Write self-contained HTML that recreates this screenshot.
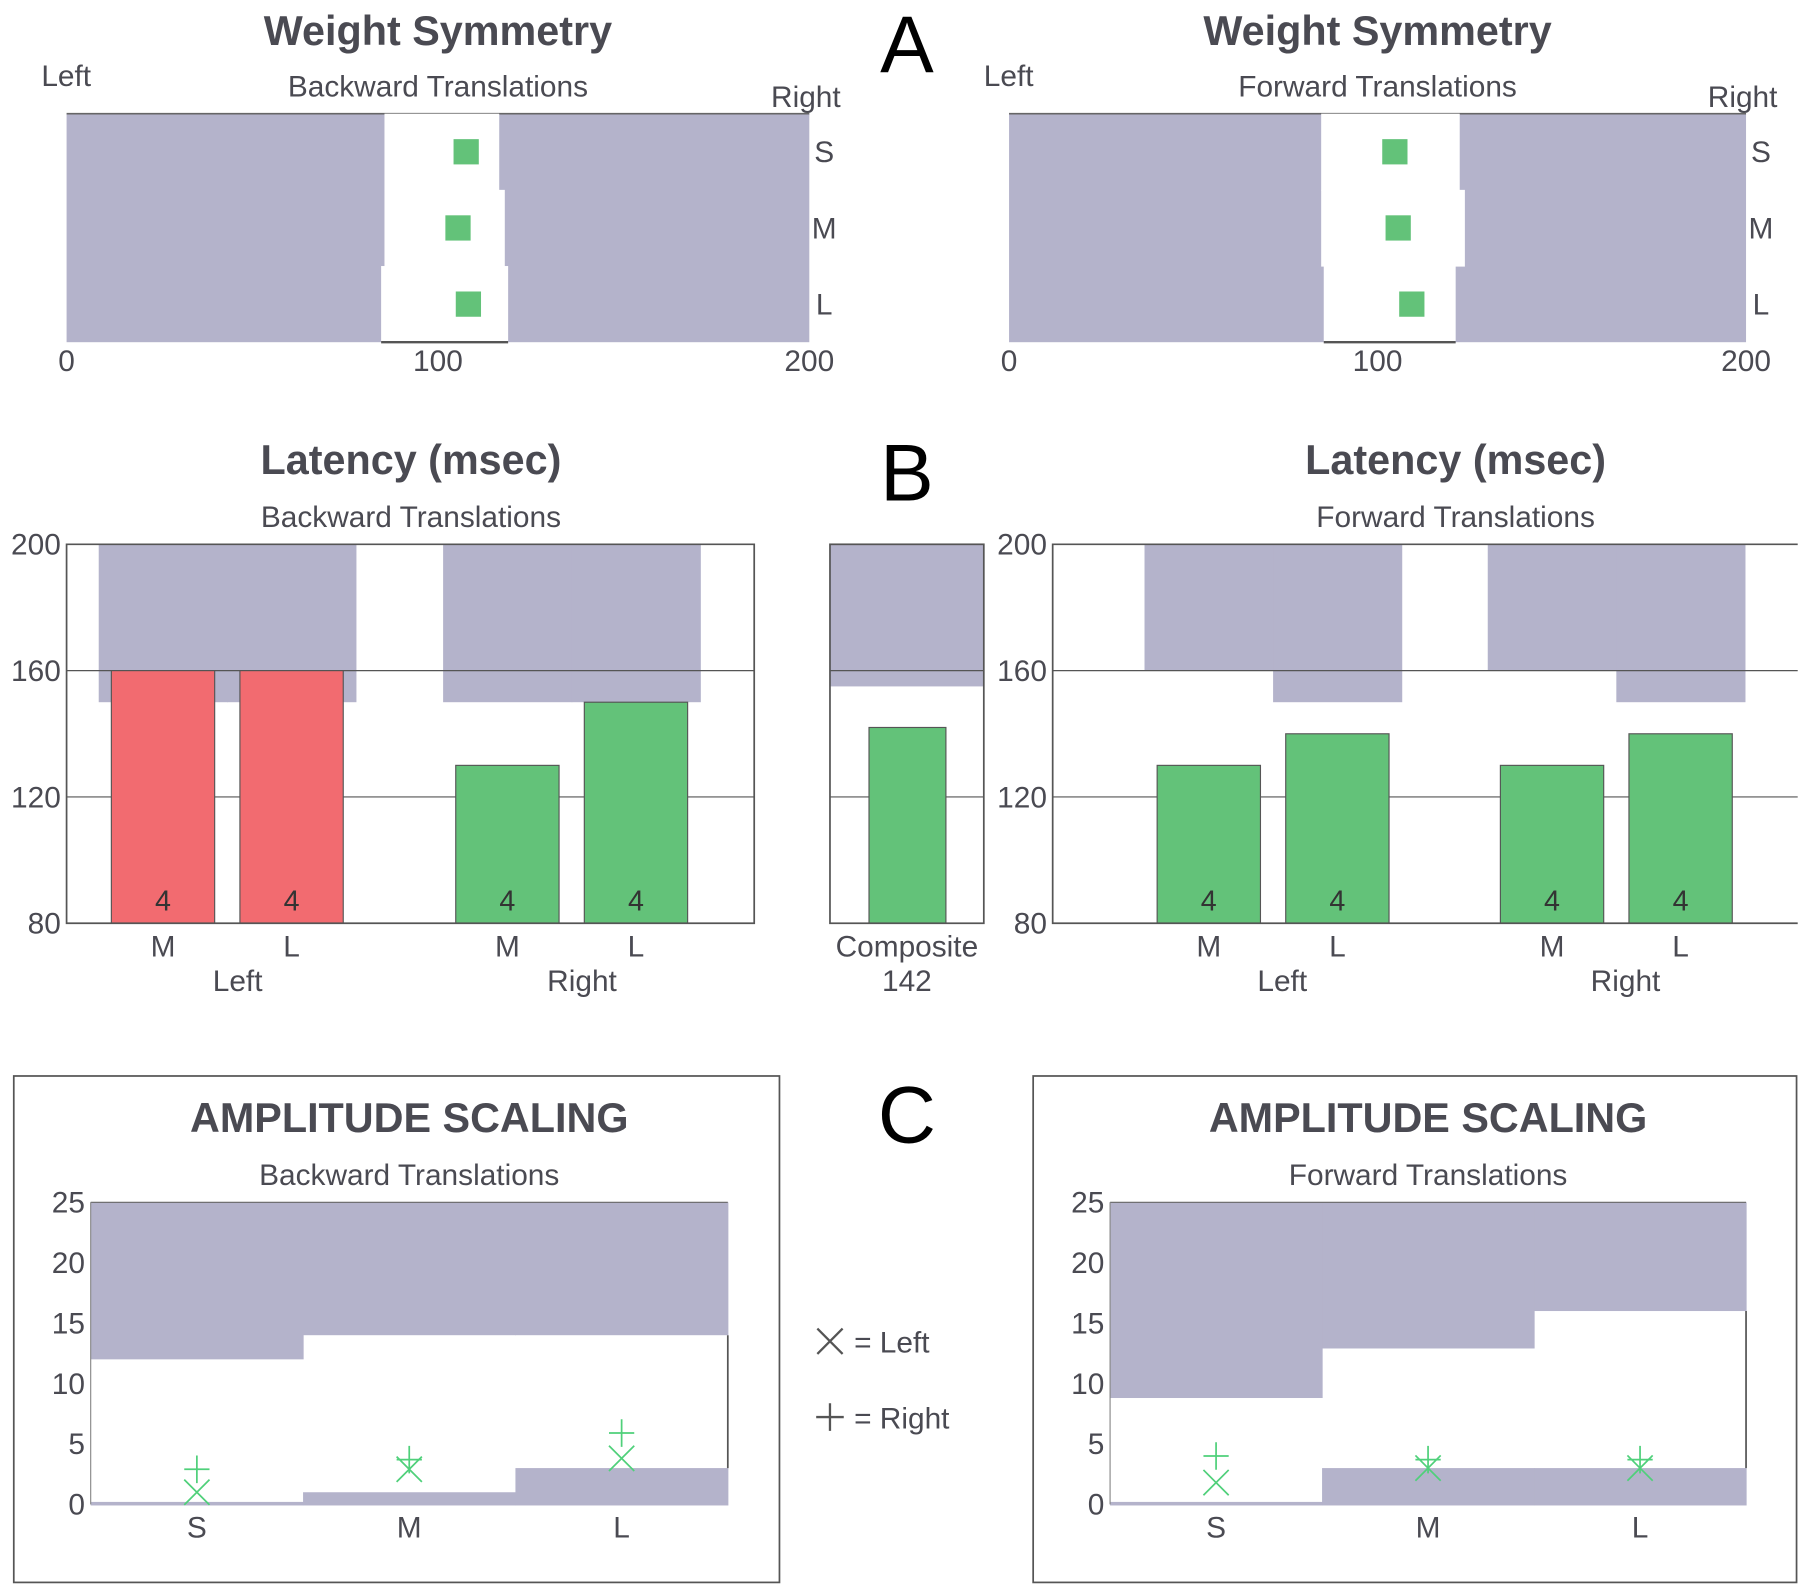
<!DOCTYPE html>
<html><head><meta charset="utf-8"><style>
html,body{margin:0;padding:0;background:#fff}
svg{display:block}
text{font-family:"Liberation Sans",Arial,sans-serif;fill:#4a4a52}
</style></head><body>
<svg id="fig" width="1800" height="1587" viewBox="0 0 1568 1382" preserveAspectRatio="none" xmlns="http://www.w3.org/2000/svg">
<rect x="0" y="0" width="1568" height="1382" fill="#fff"/>
<g id="layer"></g>
</svg>
<script>
// ===== Panel A: weight symmetry =====
const wsRows = ["S","M","L"];
const wsBackLo = [85.6, 85.6, 84.7];
const wsBackHi = [116.5, 118, 118.9];
const wsBackVal = [107.6, 105.4, 108.2];
const wsFwdLo = [84.7, 84.7, 85.4];
const wsFwdHi = [122.3, 123.7, 121.2];
const wsFwdVal = [104.7, 105.6, 109.3];
const wsTicks = [0, 100, 200];
// ===== Panel B: latency =====
const latCats = ["M","L","M","L"];
const latBackVals = [160, 160, 130, 150];
const latBackColors = ["red","red","green","green"];
const latBackBandLo = [150, 150, 150, 150];
const latFwdVals = [130, 140, 130, 140];
const latFwdBandLo = [160, 150, 160, 150];
const latCounts = [4, 4, 4, 4];
const latTicks = [80, 120, 160, 200];
const compositeVal = 142;
const compositeBandLo = 155;
// ===== Panel C: amplitude scaling =====
const ampCats = ["S","M","L"];
const ampBackUpperLo = [12, 14, 14];
const ampBackLowerHi = [0.2, 1, 3];
const ampBackLeft = [1, 2.9, 3.8];
const ampBackRight = [2.9, 3.7, 5.9];
const ampFwdUpperLo = [8.8, 12.9, 16];
const ampFwdLowerHi = [0.2, 3, 3];
const ampFwdLeft = [1.8, 3, 3];
const ampFwdRight = [4, 3.7, 3.7];
const ampTicks = [0, 5, 10, 15, 20, 25];

const NS = "http://www.w3.org/2000/svg";
const layer = document.getElementById("layer");
const GRAY = "#b4b3cb", GREEN = "#63c279", RED = "#f26b70";
const FS = 26, TS = 36;
function mk(tag, attrs, parent) {
  const e = document.createElementNS(NS, tag);
  for (const k in attrs) e.setAttribute(k, attrs[k]);
  (parent || layer).appendChild(e);
  return e;
}
function txt(x, y, s, size, anchor, weight, name, fill) {
  const t = mk("text", {x: x, y: y, "font-size": size, "text-anchor": anchor || "middle", "font-weight": weight || "normal"});
  if (fill) t.setAttribute("style", "fill:" + fill);
  t.textContent = s;
  
  
  return t;
}

// ---- Panel A ----
function weightPanel(x0, x1, subtitle, lo, hi, vals, tag) {
  const top = 99, bot = 298;
  const sx = v => x0 + (v / 200) * (x1 - x0);
  const rowH = (bot - top) / 3;
  const cx = (x0 + x1) / 2;
  txt(cx, 39, "Weight Symmetry", TS, "middle", "bold", tag + "-title");
  txt(x0 - 22, 75, "Left", FS, "start", "normal", tag + "-left-label");
  txt(cx, 84, subtitle, FS, "middle", "normal", tag + "-subtitle");
  txt(x1 - 3, 93, "Right", FS, "middle", "normal", tag + "-right-label");
  const bg = mk("rect", {x: x0, y: top, width: x1 - x0, height: bot - top, fill: GRAY});
  
  
  mk("line", {x1: x0, y1: top, x2: x1, y2: top, stroke: "#666", "stroke-width": 1.5});
  for (let i = 0; i < wsRows.length; i++) {
    const y = top + i * rowH;
    const w = mk("rect", {x: sx(lo[i]), y: y, width: sx(hi[i]) - sx(lo[i]), height: rowH + 0.5, fill: "#fff"});
    
    
    const m = mk("rect", {x: sx(vals[i]) - 11, y: y + rowH / 2 - 11, width: 22, height: 22, fill: GREEN});
    
    
    txt(x1 + 13, y + rowH / 2 + 9, wsRows[i], FS, "middle", "normal", tag + "-row-label-" + wsRows[i]);
  }
  mk("line", {x1: sx(lo[2]), y1: bot, x2: sx(hi[2]), y2: bot, stroke: "#555", "stroke-width": 2});
  wsTicks.forEach(t => txt(sx(t), 323, String(t), FS, "middle", "normal", tag + "-tick-" + t));
}
weightPanel(58, 705, "Backward Translations", wsBackLo, wsBackHi, wsBackVal, "ws-back");
weightPanel(879, 1521, "Forward Translations", wsFwdLo, wsFwdHi, wsFwdVal, "ws-fwd");

// ---- Panel B ----
const bTop = 474, bBot = 804;
const ly = v => bBot - (v - 80) / 120 * (bBot - bTop);
function latencyPanel(bx0, bx1, barX, bandLo, vals, colors, subtitle, tag, groupCenters, rightBorder) {
  const cx = tag === "lat-back" ? 358 : 1268;
  txt(cx, 413, "Latency (msec)", TS, "middle", "bold", tag + "-title");
  txt(cx, 459, subtitle, FS, "middle", "normal", tag + "-subtitle");
  for (let i = 0; i < vals.length; i++) {
    const bxs = barX[i] - 11;
    const b = mk("rect", {x: bxs, y: ly(200), width: 112.5, height: ly(bandLo[i]) - ly(200), fill: GRAY});
    
    
  }
  latTicks.forEach(t => {
    if (t === 120 || t === 160) mk("line", {x1: bx0, y1: ly(t), x2: bx1, y2: ly(t), stroke: "#555", "stroke-width": 1});
    txt(bx0 - 5, ly(t) + 9, String(t), FS, "end", "normal", tag + "-ytick-" + t);
  });
  for (let i = 0; i < vals.length; i++) {
    const r = mk("rect", {x: barX[i], y: ly(vals[i]), width: 90, height: ly(80) - ly(vals[i]), fill: colors[i] === "red" ? RED : GREEN, stroke: "#555", "stroke-width": 1});
    
    
    txt(barX[i] + 45, 793, String(latCounts[i]), 25, "middle", "normal", tag + "-count-" + i, "#333");
    txt(barX[i] + 45, 833, latCats[i], FS, "middle", "normal", tag + "-cat-" + i);
  }
  txt(groupCenters[0], 863, "Left", FS, "middle", "normal", tag + "-group-left");
  txt(groupCenters[1], 863, "Right", FS, "middle", "normal", tag + "-group-right");
  const p = "M" + bx1 + " " + bTop + " L" + bx0 + " " + bTop + " L" + bx0 + " " + bBot + " L" + bx1 + " " + bBot + (rightBorder ? " Z" : "");
  const fr = mk("path", {d: p, fill: "none", stroke: "#555", "stroke-width": 1.5});
  
  
}
latencyPanel(58, 657, [97, 209, 397, 509], latBackBandLo, latBackVals, latBackColors, "Backward Translations", "lat-back", [207, 507], true);
latencyPanel(917, 1566, [1008, 1120, 1307, 1419], latFwdBandLo, latFwdVals, ["green","green","green","green"], "Forward Translations", "lat-fwd", [1117, 1416], false);
(function () {
  const x0 = 723, x1 = 857;
  const b = mk("rect", {x: x0, y: ly(200), width: x1 - x0, height: ly(compositeBandLo) - ly(200), fill: GRAY});
  
  
  [120, 160].forEach(t => mk("line", {x1: x0, y1: ly(t), x2: x1, y2: ly(t), stroke: "#555", "stroke-width": 1}));
  const r = mk("rect", {x: 757, y: ly(compositeVal), width: 67, height: ly(80) - ly(compositeVal), fill: GREEN, stroke: "#555", "stroke-width": 1});
  
  
  const f = mk("rect", {x: x0, y: bTop, width: x1 - x0, height: bBot - bTop, fill: "none", stroke: "#555", "stroke-width": 1.5});
  
  
  txt(790, 833, "Composite", FS, "middle", "normal", "composite-label");
  txt(790, 863, String(compositeVal), FS, "middle", "normal", "composite-value");
})();

// ---- Panel C ----
const cTop = 1047, cBot = 1310;
const ay = v => cBot - v / 25 * (cBot - cTop);
function ampPanel(ox0, ox1, px0, px1, subtitle, upperLo, lowerHi, leftV, rightV, tag) {
  const box = mk("rect", {x: ox0, y: 937, width: ox1 - ox0, height: 441, fill: "none", stroke: "#555", "stroke-width": 1.5});
  
  
  const cx = (px0 + px1) / 2;
  txt(cx, 986, "AMPLITUDE SCALING", TS, "middle", "bold", tag + "-title");
  txt(cx, 1032, subtitle, FS, "middle", "normal", tag + "-subtitle");
  const w = (px1 - px0) / 3;
  for (let i = 0; i < 3; i++) {
    const x = px0 + i * w;
    const u = mk("rect", {x: x, y: ay(25), width: w + 0.5, height: ay(upperLo[i]) - ay(25), fill: GRAY});
    
    
    const l = mk("rect", {x: x, y: ay(lowerHi[i]), width: w + 0.5, height: ay(0) - ay(lowerHi[i]) + 1, fill: GRAY});
    
    
    const mx = x + w / 2;
    const yl = ay(leftV[i]);
    const xm = mk("path", {d: `M${mx-11} ${yl-11} L${mx+11} ${yl+11} M${mx+11} ${yl-11} L${mx-11} ${yl+11}`, stroke: "#4fd07a", "stroke-width": 1.5, fill: "none"});
    
    
    const yr = ay(rightV[i]);
    const pm = mk("path", {d: `M${mx-11} ${yr} L${mx+11} ${yr} M${mx} ${yr-12} L${mx} ${yr+12}`, stroke: "#4fd07a", "stroke-width": 1.5, fill: "none"});
    
    
    txt(mx, 1339, ampCats[i], FS, "middle", "normal", tag + "-cat-" + ampCats[i]);
  }
  mk("line", {x1: px0, y1: ay(25), x2: px1, y2: ay(25), stroke: "#666", "stroke-width": 1});
  mk("line", {x1: px0, y1: ay(25), x2: px0, y2: ay(0), stroke: "#888", "stroke-width": 1});
  mk("line", {x1: px1, y1: ay(upperLo[2]), x2: px1, y2: ay(lowerHi[2]), stroke: "#555", "stroke-width": 1.5});
  ampTicks.forEach(t => txt(px0 - 5, ay(t) + 9, String(t), FS, "end", "normal", tag + "-ytick-" + t));
}
ampPanel(12, 679, 79, 634, "Backward Translations", ampBackUpperLo, ampBackLowerHi, ampBackLeft, ampBackRight, "amp-back");
ampPanel(900, 1565, 967, 1521, "Forward Translations", ampFwdUpperLo, ampFwdLowerHi, ampFwdLeft, ampFwdRight, "amp-fwd");

// legend
mk("path", {d: "M712 1157 L734 1179 M734 1157 L712 1179", stroke: "#555", "stroke-width": 2, fill: "none"});
txt(744, 1178, "= Left", FS, "start", "normal", "legend-left");
mk("path", {d: "M711 1234 L735 1234 M723 1222 L723 1246", stroke: "#555", "stroke-width": 2, fill: "none"});
txt(744, 1244, "= Right", FS, "start", "normal", "legend-right");

// panel letters
txt(790, 63, "A", 70, "middle", "normal", "panel-letter-a", "#000");
txt(790, 436, "B", 70, "middle", "normal", "panel-letter-b", "#000");
txt(790, 995, "C", 70, "middle", "normal", "panel-letter-c", "#000");
</script>
</body></html>
